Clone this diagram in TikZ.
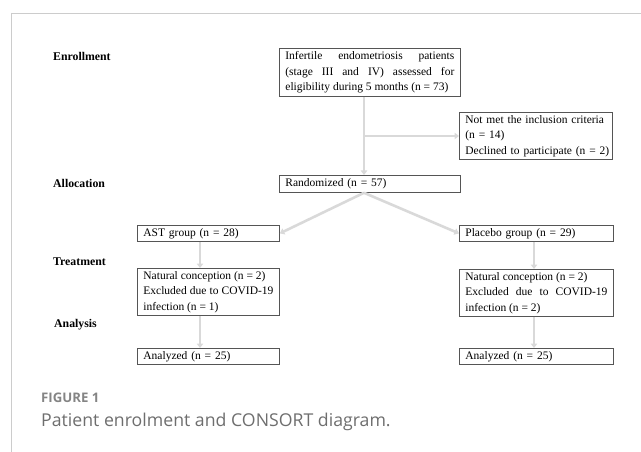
\documentclass[tikz,border=0pt]{standalone}
\usepackage{fontspec}
\setmainfont{Liberation Serif}
\newfontfamily\capfont{Open Sans}
\usetikzlibrary{arrows.meta,calc}
\definecolor{connc}{HTML}{D9D9D9}
\definecolor{boxline}{HTML}{555555}
\definecolor{framec}{HTML}{CCCCCC}
\definecolor{capgray}{HTML}{6E6E6E}
\hyphenpenalty=10000
\exhyphenpenalty=10000
\begin{document}
\begin{tikzpicture}[x=1pt,y=-1pt,
  box/.style={draw=boxline, line width=0.8pt, inner xsep=6pt, inner ysep=0pt,
    anchor=north west, font=\fontsize{11.5}{15.5}\selectfont},
  stagelabel/.style={anchor=west, inner sep=0pt, font=\fontsize{11.8}{14}\selectfont\bfseries},
  conn/.style={draw=connc, line width=2.6pt, -{Triangle[width=6.5pt,length=4.5pt]}},
  framel/.style={draw=framec, line width=0.9pt}]
\useasboundingbox (0,0) rectangle (641,452);
\draw[framel] (11,13) -- (641,13);
\draw[framel] (11,13) -- (11,452);
% stage labels
\node[stagelabel] (lenr) at (53,56) {Enrollment};
\node[stagelabel] (lall) at (53,183) {Allocation};
\node[stagelabel] (ltre) at (53,262) {Treatment};
\node[stagelabel] (lana) at (54,325) {Analysis};
% boxes
\node[box, text width=169pt, minimum height=48pt, align=justify] (top) at (279,48)
  {Infertile endometriosis patients (stage III and IV) assessed for eligibility during 5 months (n = 73)};
\node[box, text width=141pt, minimum height=47pt, align=left] (excl) at (459,112)
  {\mbox{Not met the inclusion criteria}\\{(n = 14)}\\\mbox{Declined to participate (n = 2)}};
\node[box, text width=169pt, minimum height=17pt, align=left] (rand) at (279,175)
  {Randomized (n = 57)};
\node[box, text width=130pt, minimum height=16pt, align=left] (ast) at (137,225)
  {AST group (n = 28)};
\node[box, text width=142pt, minimum height=16pt, align=left] (plac) at (459,225)
  {Placebo group (n = 29)};
\node[box, text width=130pt, minimum height=47pt, align=justify] (ncl) at (137,268)
  {Natural conception (n = 2)\newline Excluded due to COVID-19\linebreak infection (n = 1)};
\node[box, text width=142pt, minimum height=47pt, align=justify] (ncr) at (459,269)
  {Natural conception (n = 2)\newline Excluded due to COVID-19\linebreak infection (n = 2)};
\node[box, text width=130pt, minimum height=16pt, align=left] (anl) at (137,348)
  {Analyzed (n = 25)};
\node[box, text width=142pt, minimum height=16pt, align=left] (anr) at (459,348)
  {Analyzed (n = 25)};
% connector guides
\coordinate (spine) at (364,0);
\coordinate (br) at (364,136);
\coordinate (lx) at (200,0);
\coordinate (rx) at (534,0);
% connectors
\draw[conn] (top.south -| spine) -- (rand.north -| spine);
\draw[conn] (br) -- (br -| excl.west);
\draw[conn] (rand.south -| spine) -- (ast.east);
\draw[conn] (rand.south -| spine) -- (plac.west);
\draw[conn] (ast.south -| lx) -- (ncl.north -| lx);
\draw[conn] (ncl.south -| lx) -- (anl.north -| lx);
\draw[conn] (plac.south -| rx) -- (ncr.north -| rx);
\draw[conn] (ncr.south -| rx) -- (anr.north -| rx);
% caption
\node[anchor=west, inner sep=0pt, text=capgray!85, font=\capfont\fontsize{13.2}{15}\selectfont\bfseries] (figlab) at (41,398) {FIGURE 1};
\node[anchor=west, inner sep=0pt, text=capgray, font=\capfont\fontsize{17.7}{20}\selectfont] (figcap) at (41,422) {Patient enrolment and CONSORT diagram.};
\end{tikzpicture}
\end{document}
